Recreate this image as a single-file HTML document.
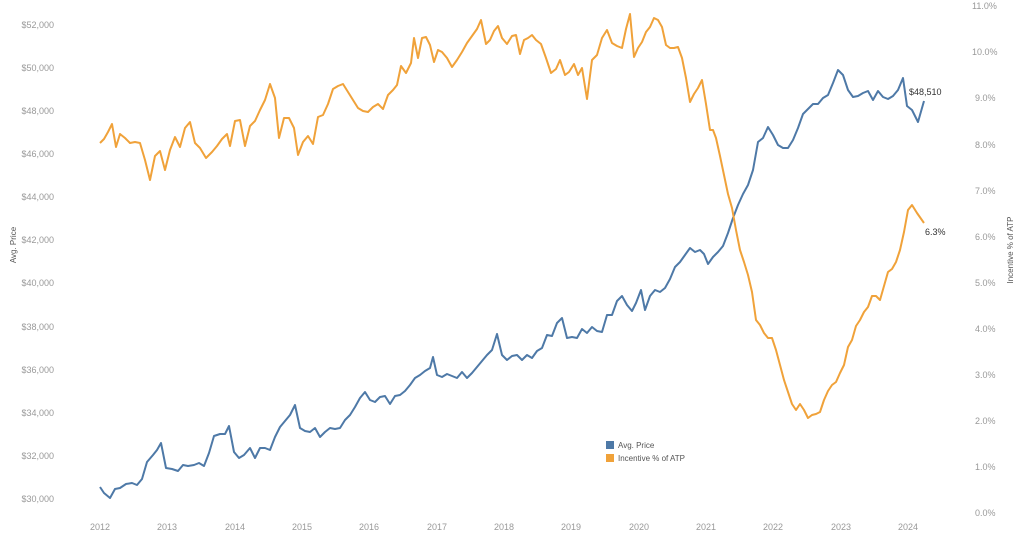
<!DOCTYPE html>
<html><head><meta charset="utf-8"><style>
body{margin:0;background:#fff;}
svg{display:block;font-family:"Liberation Sans",sans-serif;}
.t{fill:#999;font-size:9px;}
</style></head><body>
<svg width="1024" height="537" viewBox="0 0 1024 537">
<g class="t" text-anchor="end">
<text x="54" y="28">$52,000</text><text x="54" y="71">$50,000</text><text x="54" y="114">$48,000</text><text x="54" y="157">$46,000</text><text x="54" y="200">$44,000</text><text x="54" y="243">$42,000</text><text x="54" y="286">$40,000</text><text x="54" y="330">$38,000</text><text x="54" y="373">$36,000</text><text x="54" y="416">$34,000</text><text x="54" y="459">$32,000</text><text x="54" y="502">$30,000</text>
</g>
<g class="t" text-anchor="start">
<text x="972" y="9">11.0%</text><text x="972" y="55">10.0%</text><text x="975" y="101">9.0%</text><text x="975" y="148">8.0%</text><text x="975" y="194">7.0%</text><text x="975" y="240">6.0%</text><text x="975" y="286">5.0%</text><text x="975" y="332">4.0%</text><text x="975" y="378">3.0%</text><text x="975" y="424">2.0%</text><text x="975" y="470">1.0%</text><text x="975" y="516">0.0%</text>
</g>
<g class="t" text-anchor="middle">
<text x="100" y="530">2012</text><text x="167" y="530">2013</text><text x="235" y="530">2014</text><text x="302" y="530">2015</text><text x="369" y="530">2016</text><text x="437" y="530">2017</text><text x="504" y="530">2018</text><text x="571" y="530">2019</text><text x="639" y="530">2020</text><text x="706" y="530">2021</text><text x="773" y="530">2022</text><text x="841" y="530">2023</text><text x="908" y="530">2024</text>
</g>
<text x="16" y="245" transform="rotate(-90 16 245)" text-anchor="middle" font-size="8" fill="#555">Avg. Price</text>
<text x="1013" y="250" transform="rotate(-90 1013 250)" text-anchor="middle" font-size="8" fill="#555">Incentive % of ATP</text>
<polyline fill="none" stroke="#4e79a7" stroke-width="2" stroke-linejoin="round" points="100,487 104,493 110,498 115,489 120,488 126,484 132,483 137,485 142,479 147,462 153,455 157,450 161,443 166,468 172,469 178,471 183,465 188,466 194,465 199,463 204,466 209,453 214,436 220,434 225,434 229,426 234,452 239,458 244,455 250,448 255,458 260,448 265,448 270,450 275,437 280,427 285,421 290,415 295,405 300,428 305,431 310,432 315,428 320,437 325,432 330,428 335,429 340,428 345,420 350,415 355,407 360,398 365,392 370,400 375,402 380,397 385,396 390,404 395,396 400,395 405,391 410,385 415,378 420,375 425,371 430,368 433,357 437,375 442,377 447,374 452,376 457,378 462,372 467,378 472,373 477,367 482,361 487,355 492,350 497,334 502,355 507,360 512,356 517,355 522,360 527,355 532,358 537,351 542,348 547,335 552,336 557,323 562,318 567,338 572,337 577,338 582,329 587,333 592,327 597,331 602,332 607,315 612,315 617,301 622,296 627,305 632,311 636,303 641,290 645,310 650,296 655,290 660,292 665,288 670,279 675,267 680,262 685,255 690,248 695,252 700,250 704,254 708,264 713,257 718,252 723,246 728,233 733,218 738,205 743,194 748,185 753,170 758,142 763,138 768,127 773,135 778,145 783,148 788,148 793,140 798,128 803,114 808,109 813,104 818,104 823,98 828,95 833,83 838,70 843,75 848,90 853,97 858,96 863,93 868,91 873,100 878,91 883,97 888,99 893,96 898,90 903,78 907,106 912,110 918,122 924,101"/>
<polyline fill="none" stroke="#f0a23a" stroke-width="2" stroke-linejoin="round" points="100,143 104,139 108,132 112,124 116,147 120,134 125,138 130,143 135,142 140,143 145,160 150,180 155,156 160,151 165,170 170,150 175,137 180,147 185,128 190,122 195,143 200,148 206,158 212,152 217,146 222,139 227,134 230,146 235,121 240,120 245,146 250,126 255,121 260,110 265,100 270,84 275,98 279,138 284,118 289,118 294,128 298,155 303,142 308,136 313,144 318,117 323,115 328,104 333,89 338,86 343,84 348,92 353,100 358,108 363,111 368,112 373,107 378,104 383,109 388,95 393,90 397,85 401,66 406,73 411,63 414,38 418,58 422,38 426,37 430,45 434,62 438,50 442,52 447,58 452,67 457,60 462,52 467,43 472,36 477,29 481,20 486,44 490,40 494,31 498,26 502,38 507,44 512,36 516,35 520,54 524,40 528,38 532,35 536,40 541,44 546,58 551,73 556,69 560,60 565,75 569,72 574,64 578,75 582,68 587,99 592,60 597,55 602,38 607,30 612,43 617,46 622,48 626,29 630,14 634,57 638,48 642,42 646,32 650,27 654,18 658,20 662,27 666,45 670,48 674,48 678,47 682,58 686,78 690,102 694,94 698,88 702,80 706,104 710,130 713,130 716,138 720,156 724,175 728,194 732,208 736,230 740,250 744,262 748,275 752,292 756,320 760,325 764,333 768,338 772,338 776,350 780,365 784,380 788,392 792,404 796,410 800,404 804,410 808,418 812,415 816,414 820,412 824,400 828,391 832,385 836,382 840,373 844,365 848,347 852,340 856,326 860,320 864,312 868,307 872,296 876,296 880,300 884,286 888,272 892,269 896,262 900,250 904,232 908,210 912,205 917,213 924,223"/>
<text x="909" y="95" font-size="9" fill="#333">$48,510</text>
<text x="925" y="235" font-size="9" fill="#333">6.3%</text>
<rect x="606" y="441" width="8" height="8" fill="#4e79a7"/>
<rect x="606" y="454" width="8" height="8" fill="#f0a23a"/>
<text x="618" y="448" font-size="8" fill="#555">Avg. Price</text>
<text x="618" y="461" font-size="8" fill="#555">Incentive % of ATP</text>
</svg>
</body></html>
